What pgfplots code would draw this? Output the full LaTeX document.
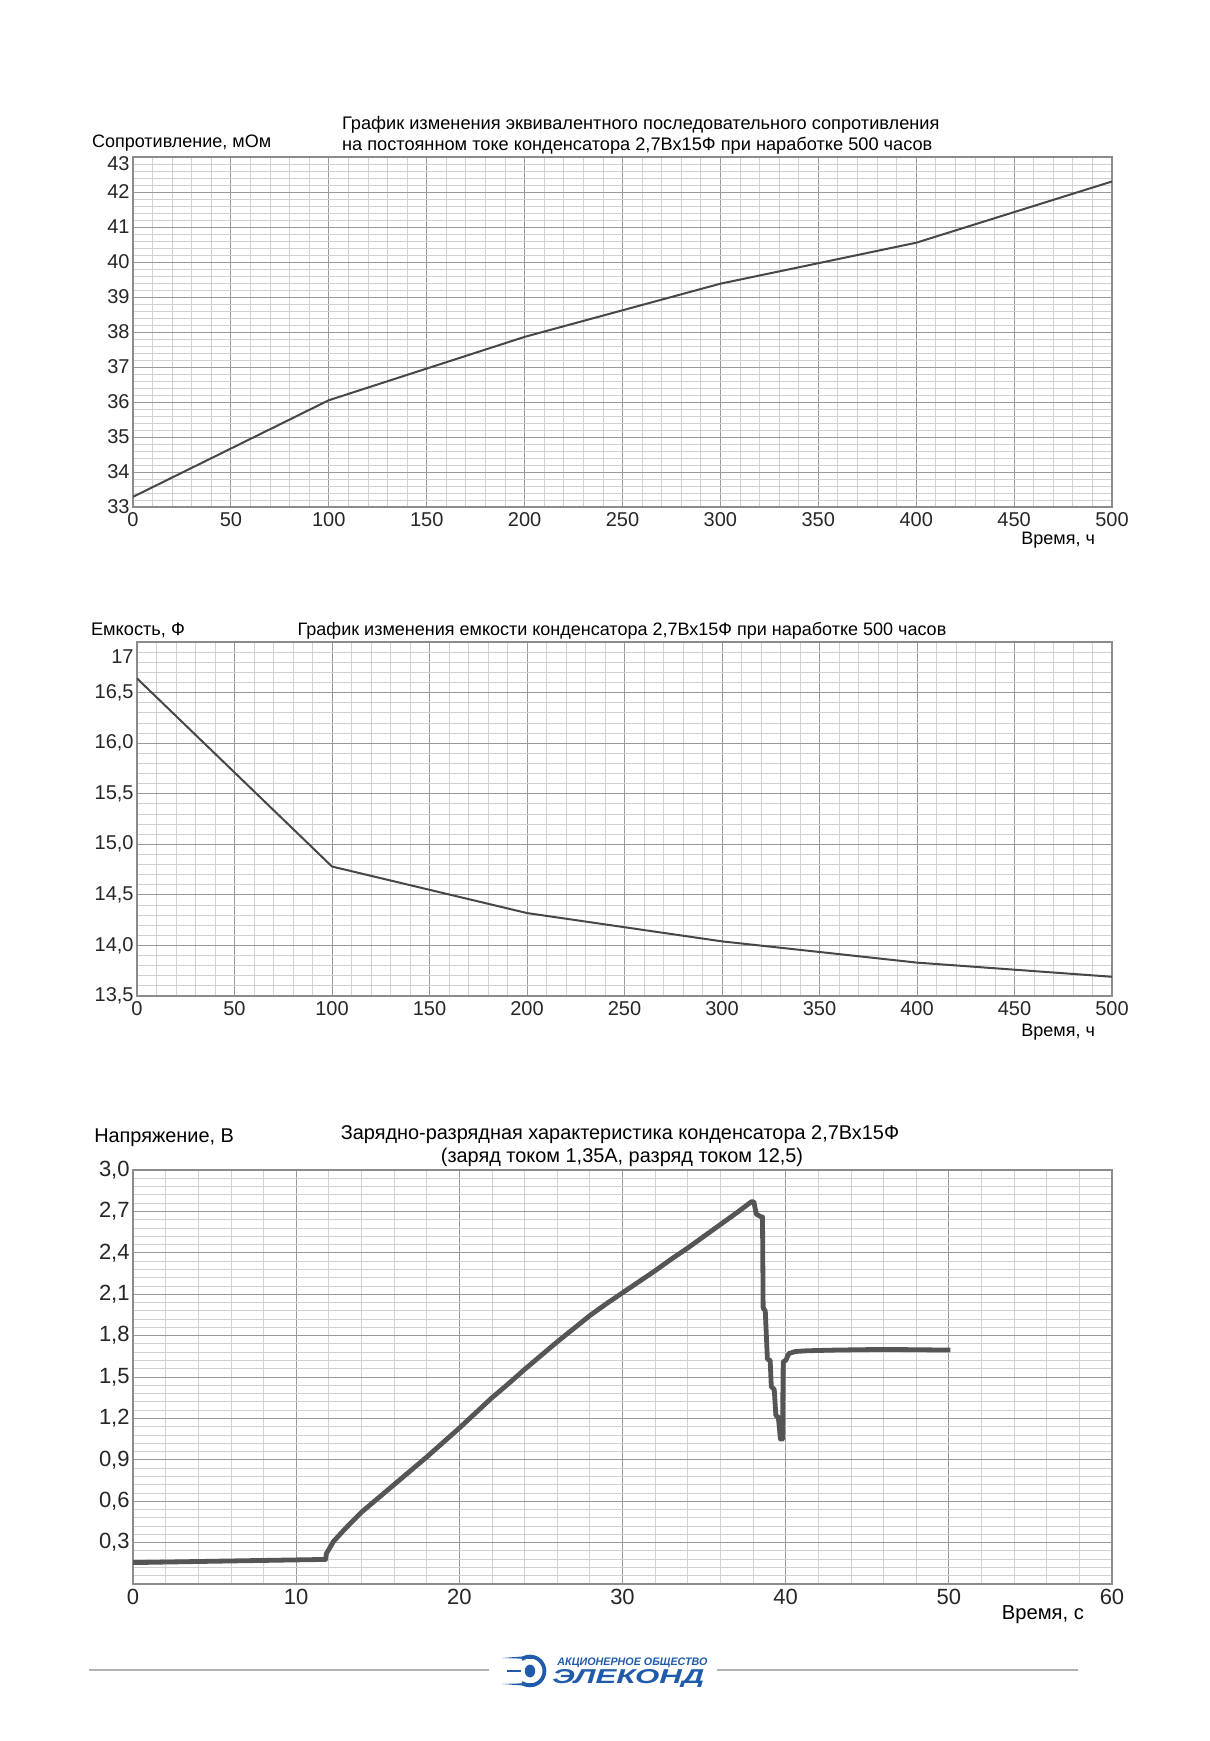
\documentclass[border=0pt]{standalone}
\usepackage{pgfplots}
\pgfplotsset{compat=1.18}
\usepackage{fontspec}
\setmainfont{Liberation Sans}
\usepackage{graphicx}

\definecolor{curve}{HTML}{474747}
\definecolor{curvethree}{HTML}{555555}
\definecolor{logoblue}{HTML}{1F5BAA}

\pgfplotsset{
  gridchart/.style={
    scale only axis, anchor=south west,
    grid=both,
    major grid style={draw=black!40, line width=0.45pt},
    minor grid style={draw=black!18, line width=0.4pt},
    axis line style={draw=black!45, line width=0.7pt},
    major tick length=0pt, minor tick length=0pt,
    tick style={draw=none},
    tick label style={font=\fontsize{10}{12}\selectfont, text=black!85},
    yticklabel style={inner sep=1.5pt},
    xticklabel style={inner sep=2.5pt},
    extra y tick style={grid=none},
    /pgf/number format/assume math mode=true,
  }
}

\begin{document}
\begin{tikzpicture}
\path[use as bounding box] (0,0) rectangle (605pt,870.5pt);

% ---------------- Chart 1 ----------------
\begin{axis}[gridchart, at={(66.5pt,617pt)}, width=489.5pt, height=175pt,
  xmin=0, xmax=500, ymin=33, ymax=43,
  xtick={0,50,...,500}, minor x tick num=4,
  ytick={33,34,...,43}, minor y tick num=4,
  yticklabels={33,34,35,36,37,38,39,40,41,42,{}},
  extra y ticks={42.8}, extra y tick labels={43}]
\addplot[curve, line width=1pt] coordinates {
 (0,33.29) (100,36.05) (200,37.86) (300,39.38) (400,40.55) (500,42.30)};
\end{axis}
\node[anchor=west, font=\fontsize{9}{11}\selectfont] at (42.5pt,799pt) {Сопротивление, мОм};
\node[anchor=west, font=\fontsize{9.1}{11}\selectfont] at (167.5pt,808pt) {График изменения эквивалентного последовательного сопротивления};
\node[anchor=west, font=\fontsize{9.1}{11}\selectfont] at (167.5pt,797.5pt) {на постоянном токе конденсатора 2,7Вх15Ф при наработке 500 часов};
\node[anchor=east, font=\fontsize{9}{11}\selectfont] at (551pt,600.5pt) {Время, ч};

% ---------------- Chart 2 ----------------
\begin{axis}[gridchart, at={(68.5pt,372.5pt)}, width=487.5pt, height=177pt,
  xmin=0, xmax=500, ymin=13.5, ymax=17,
  xtick={0,50,...,500}, minor x tick num=4,
  ytick={13.5,14,14.5,15,15.5,16,16.5,17},
  yticklabels={{13,5},{14,0},{14,5},{15,0},{15,5},{16,0},{16,5},{}},
  extra y ticks={16.86}, extra y tick labels={17},
  minor y tick num=4]
\addplot[curve, line width=1pt] coordinates {
 (0,16.64) (100,14.78) (200,14.32) (300,14.04) (400,13.83) (500,13.69)};
\end{axis}
\node[anchor=west, font=\fontsize{9.1}{11}\selectfont] at (42pt,555.5pt) {Емкость, Ф};
\node[anchor=center, font=\fontsize{9}{11}\selectfont] at (311pt,555pt) {График изменения емкости конденсатора 2,7Вх15Ф при наработке 500 часов};
\node[anchor=east, font=\fontsize{9}{11}\selectfont] at (551pt,354.5pt) {Время, ч};

% ---------------- Chart 3 ----------------
\begin{axis}[gridchart, at={(66.5pt,78.5pt)}, width=489.5pt, height=207pt,
  xmin=0, xmax=60, ymin=0, ymax=3,
  xtick={0,10,...,60}, minor x tick num=4,
  ytick={0,0.3,0.6,0.9,1.2,1.5,1.8,2.1,2.4,2.7,3.0},
  yticklabels={{},{0,3},{0,6},{0,9},{1,2},{1,5},{1,8},{2,1},{2,4},{2,7},{3,0}},
  minor y tick num=4,
  tick label style={font=\fontsize{11}{13}\selectfont, text=black!85}]
\addplot[curvethree, line width=2.4pt, line join=round] coordinates {
 (0,0.155) (5,0.165) (11.8,0.178) (11.85,0.22) (12.0,0.25) (12.3,0.31)
 (13,0.40) (14,0.52) (15,0.62) (16,0.72) (17,0.82) (18,0.92) (19,1.025)
 (20,1.13) (21,1.24) (22,1.35) (23,1.45) (24,1.555) (25,1.655) (26,1.755)
 (27,1.85) (28,1.945) (29,2.03) (30,2.11) (31,2.19) (32,2.27) (33,2.355)
 (34,2.435) (35,2.52) (36,2.605) (37,2.69) (37.9,2.77) (38.05,2.77)
 (38.2,2.68) (38.5,2.66) (38.58,2.66) (38.62,2.00) (38.75,1.98)
 (38.88,1.63) (39.05,1.62) (39.12,1.43) (39.3,1.41) (39.4,1.22)
 (39.55,1.21) (39.68,1.05) (39.8,1.05) (39.85,1.61) (40.0,1.62)
 (40.2,1.67) (40.6,1.685) (41.3,1.69) (43,1.695) (46,1.70) (50.1,1.695)};
\end{axis}
\node[anchor=west, font=\fontsize{9.95}{12}\selectfont] at (43.6pt,301.5pt) {Напряжение, В};
\node[anchor=center, font=\fontsize{9.95}{12}\selectfont] at (310pt,303pt) {Зарядно-разрядная характеристика конденсатора 2,7Вх15Ф};
\node[anchor=center, font=\fontsize{9.95}{12}\selectfont] at (311pt,292pt) {(заряд током 1,35А, разряд током 12,5)};
\node[anchor=east, font=\fontsize{10.1}{12}\selectfont] at (545.5pt,63pt) {Время, с};

% ---------------- Footer logo ----------------
\draw[black!30, line width=1.2pt] (44.5pt,35.5pt) -- (244.5pt,35.5pt);
\draw[black!30, line width=1.2pt] (358.5pt,35.5pt) -- (539pt,35.5pt);
\begin{scope}[logoblue]
  \draw[line width=1.9pt] (265pt,35pt) ++(125:7.2pt) arc[start angle=125, end angle=-125, radius=7.2pt];
  \fill (251pt,41.5pt) -- (266pt,42.6pt) -- (266pt,41pt) -- cycle;
  \fill (251pt,28.5pt) -- (266pt,27.4pt) -- (266pt,29pt) -- cycle;
  \fill (253.5pt,35.7pt) rectangle (260.5pt,34.3pt);
  \fill (265pt,35pt) ellipse[x radius=2.6pt, y radius=3.2pt];
\end{scope}
\node[anchor=base west, inner sep=0pt, text=logoblue] at (278.5pt,37.6pt)
  {\resizebox{75pt}{3.8pt}{\bfseries\itshape АКЦИОНЕРНОЕ ОБЩЕСТВО}};
\node[anchor=base west, inner sep=0pt, text=logoblue] at (276pt,28.8pt)
  {\resizebox{76pt}{7pt}{\bfseries\itshape ЭЛЕКОНД}};
\end{tikzpicture}
\end{document}
